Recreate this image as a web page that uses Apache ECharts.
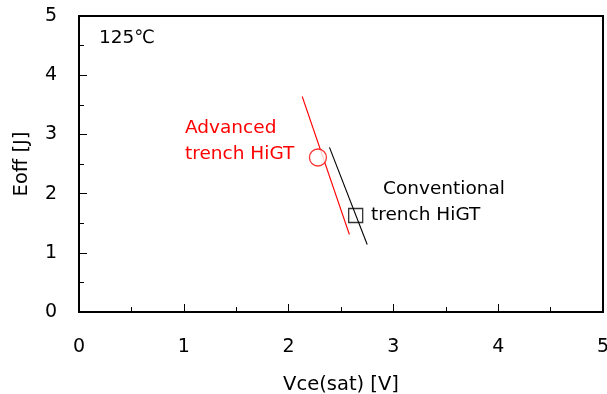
<!DOCTYPE html>
<html>
<head>
<meta charset="utf-8">
<script src="https://cdn.jsdelivr.net/npm/echarts@6/dist/echarts.min.js"></script>
<style>
  html, body { margin: 0; padding: 0; background: #fff; }
  #chart { width: 607px; height: 394px; }
</style>
</head>
<body>
<div id="chart"></div>
<script>
// Eoff vs Vce(sat) trade-off, 125°C
const xTicks = [0, 1, 2, 3, 4, 5];
const yTicks = [0, 1, 2, 3, 4, 5];

// trade-off lines (two end points each)
const advancedLine = [[2.13, 3.64], [2.58, 1.31]];
const conventionalLine = [[2.39, 2.78], [2.75, 1.14]];

// operating points
const advancedPoint = [[2.28, 2.61]];
const conventionalPoint = [[2.64, 1.63]];

const FONT = 'DejaVu Sans, sans-serif';

const chart = echarts.init(document.getElementById('chart'));

function axisCommon(ticks) {
  return {
    min: ticks[0],
    max: ticks[ticks.length - 1],
    interval: 1,
    axisLine: { show: true, onZero: false, lineStyle: { color: '#000', width: 2 } },
    axisTick: { show: true, inside: true, length: 8, lineStyle: { color: '#000', width: 1 } },
    minorTick: { show: true, splitNumber: 2, length: 5, lineStyle: { color: '#000', width: 1 } },
    splitLine: { show: false },
    nameTextStyle: { color: '#000', fontSize: 19.5, fontFamily: FONT },
  };
}

chart.setOption({
  animation: false,
  backgroundColor: '#fff',
  grid: {
    left: 79, right: 4, top: 16, bottom: 82,
    outerBoundsMode: 'none',
    containLabel: false,
    show: true, borderColor: '#000', borderWidth: 2,
  },
  xAxis: Object.assign(axisCommon(xTicks), {
    type: 'value',
    name: 'Vce(sat) [V]',
    nameLocation: 'middle',
    nameGap: 63,
    axisLabel: { color: '#000', fontSize: 19, fontFamily: FONT, margin: 26 },
  }),
  yAxis: Object.assign(axisCommon(yTicks), {
    type: 'value',
    name: 'Eoff [J]',
    nameLocation: 'middle',
    nameGap: 47,
    axisLabel: { color: '#000', fontSize: 19, fontFamily: FONT, margin: 22 },
  }),
  graphic: [
    { type: 'text', left: 99, top: 29, style: { text: '125℃', fontSize: 18.5, fontFamily: FONT, fill: '#000' } },
    { type: 'text', left: 185, top: 119, style: { text: 'Advanced', fontSize: 18.5, fontFamily: FONT, fill: '#ff0000' } },
    { type: 'text', left: 185, top: 145, style: { text: 'trench HiGT', fontSize: 18.5, fontFamily: FONT, fill: '#ff0000' } },
    { type: 'text', left: 383, top: 180, style: { text: 'Conventional', fontSize: 18.5, fontFamily: FONT, fill: '#000' } },
    { type: 'text', left: 371, top: 206, style: { text: 'trench HiGT', fontSize: 18.5, fontFamily: FONT, fill: '#000' } },
  ],
  series: [
    {
      type: 'line', data: advancedLine, symbol: 'none', z: 2,
      lineStyle: { color: '#ff0000', width: 1.1 },
    },
    {
      type: 'line', data: conventionalLine, symbol: 'none', z: 2,
      lineStyle: { color: '#000', width: 1.1 },
    },
    {
      type: 'scatter', data: advancedPoint, symbol: 'circle', symbolSize: 17, z: 3,
      itemStyle: { color: '#fff', borderColor: '#ff0000', borderWidth: 1.3 },
    },
    {
      type: 'scatter', data: conventionalPoint, symbol: 'rect', symbolSize: 14, z: 3,
      itemStyle: { color: 'rgba(0,0,0,0)', borderColor: '#000', borderWidth: 1.3 },
    },
  ],
});
</script>
</body>
</html>
